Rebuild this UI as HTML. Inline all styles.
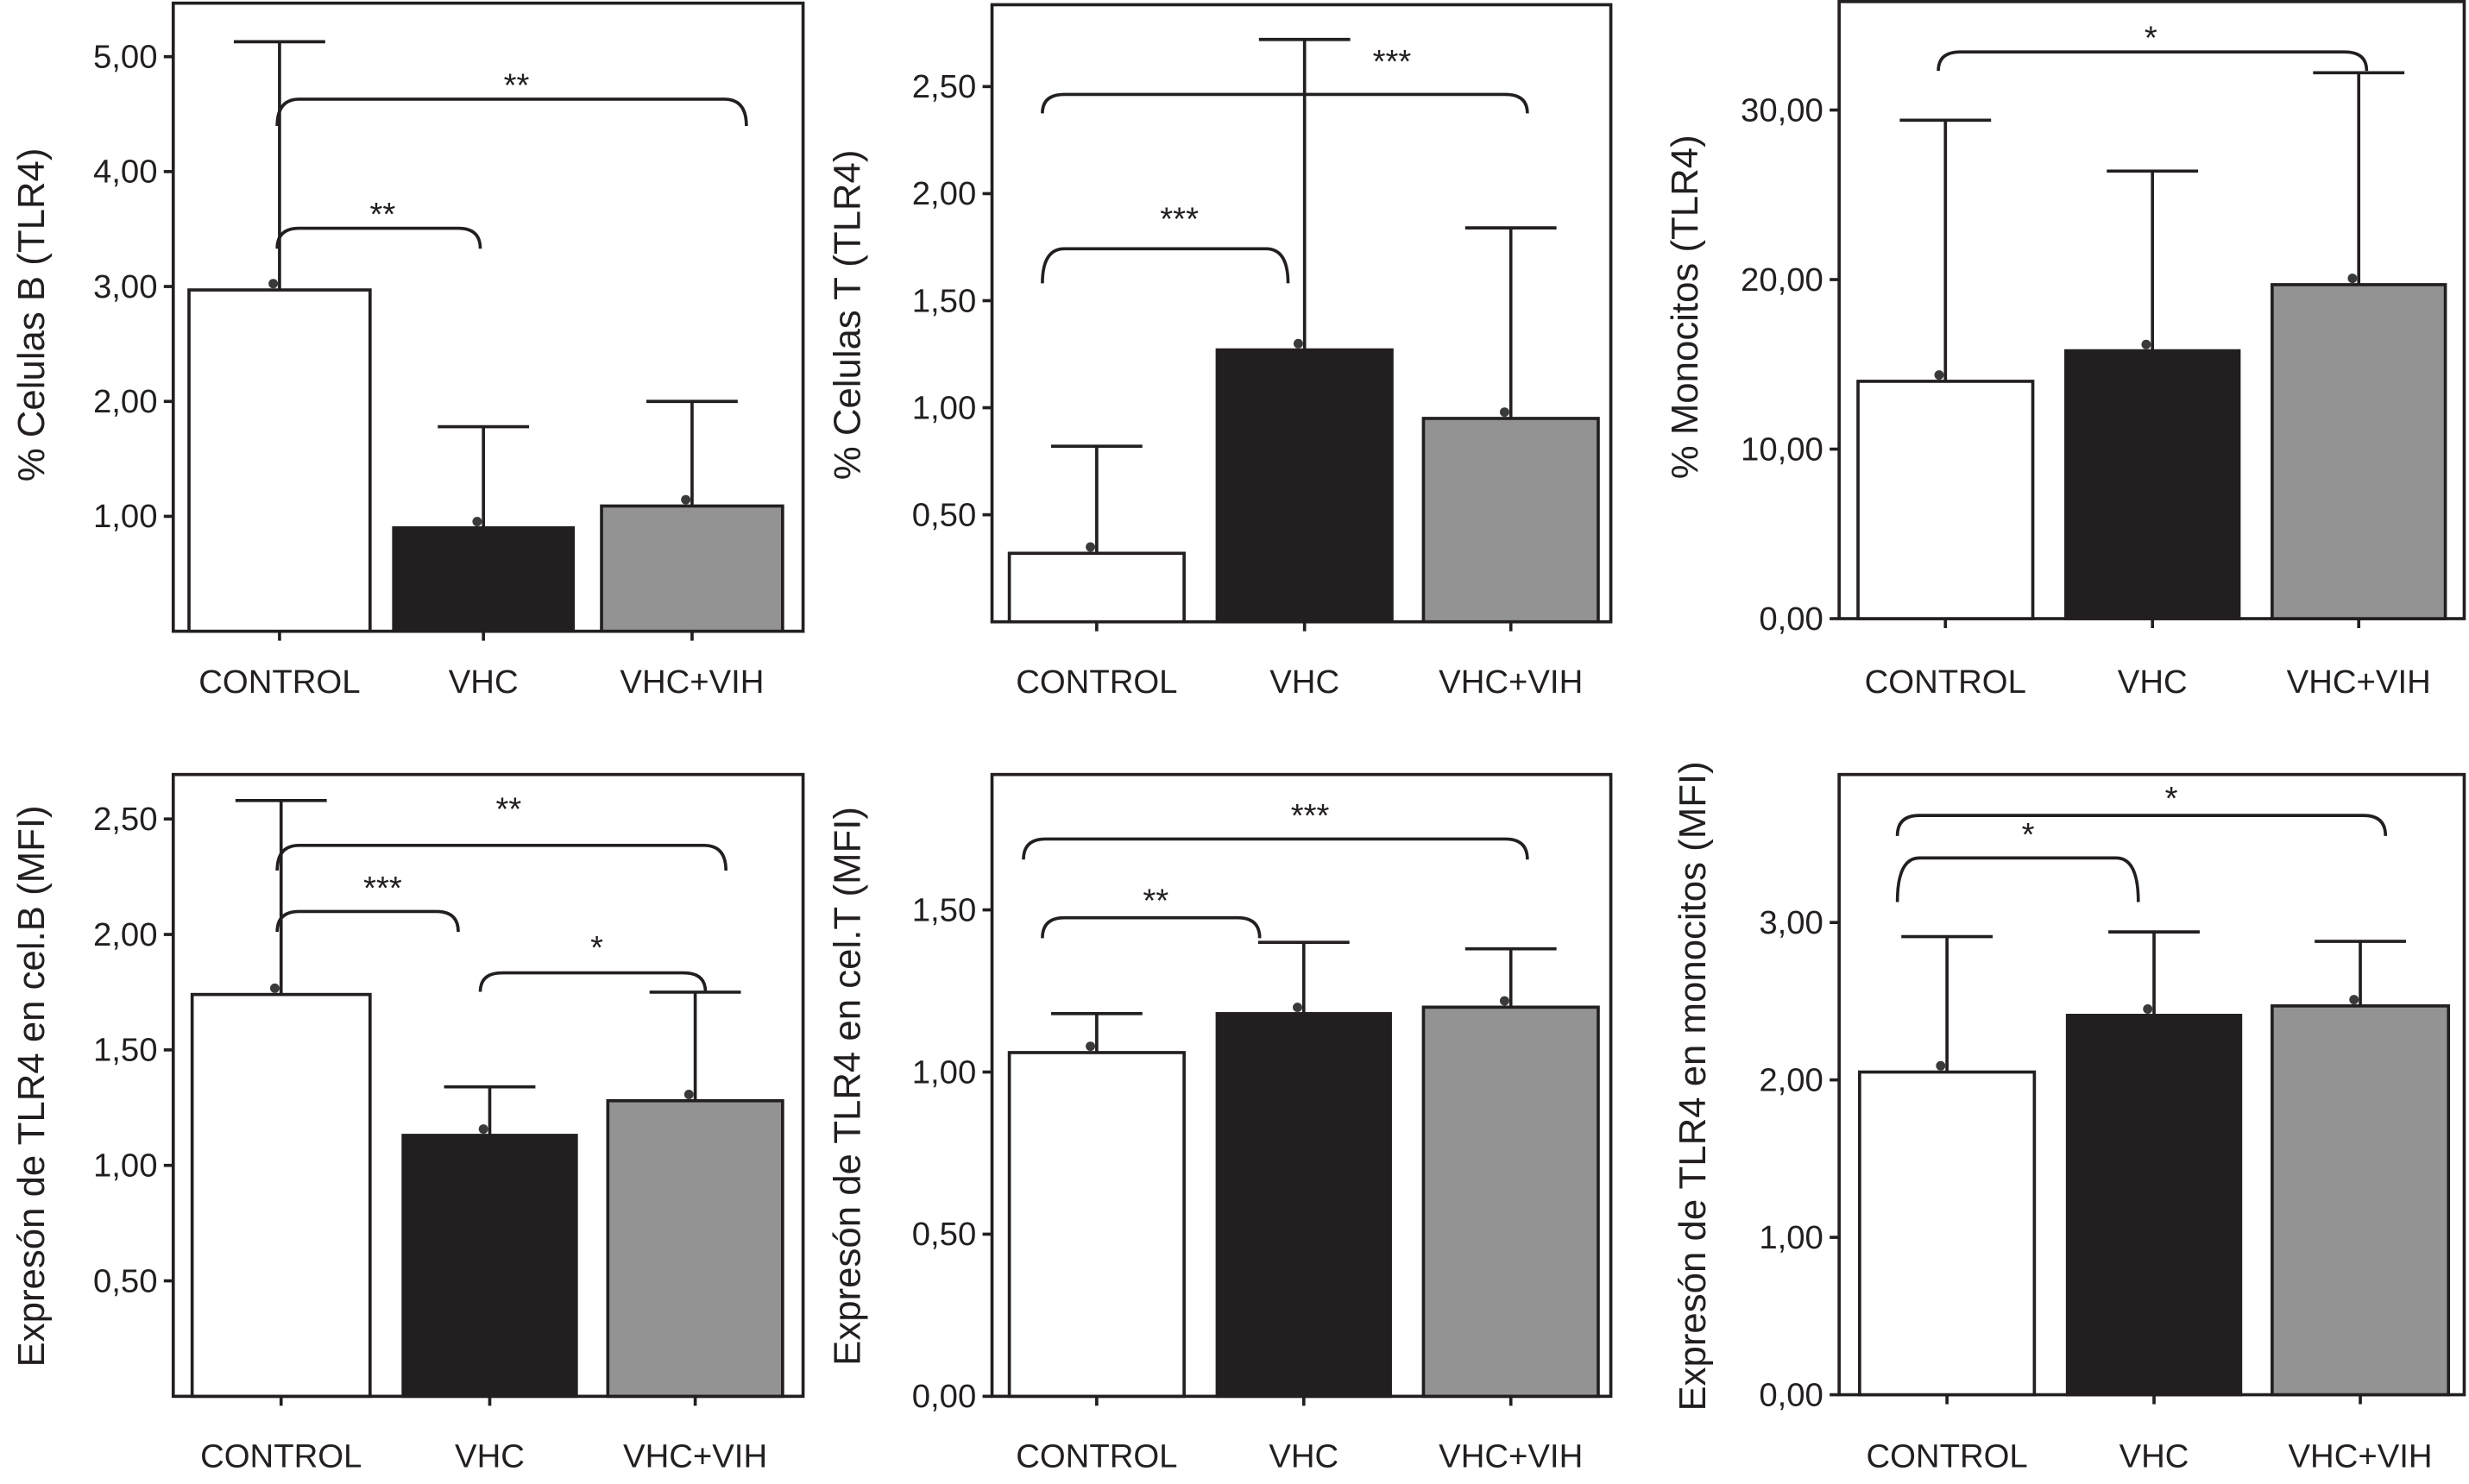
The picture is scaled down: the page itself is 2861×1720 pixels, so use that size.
<!DOCTYPE html>
<html><head><meta charset="utf-8"><style>
html,body{margin:0;padding:0;background:#fff;}
svg{display:block;font-family:"Liberation Sans",Arial,sans-serif;}
</style></head><body>
<svg id="fig" width="2861" height="1720" viewBox="0 0 1568 942.7" xmlns="http://www.w3.org/2000/svg"></svg>
<script>
const categories = ["CONTROL","VHC","VHC+VIH"];
const barFills = ["#ffffff","#231f20","#939393"];
// Panel A: % Celulas B
const valuesA = [2.97, 0.90, 1.09];
const errTopA = [5.13, 1.78, 2.00];
const ticksA = [1,2,3,4,5];
const tickLabelsA = ["1,00","2,00","3,00","4,00","5,00"];
const sigA = [[0,1,"**"],[0,2,"**"]];
// Panel B: % Celulas T
const valuesB = [0.32, 1.27, 0.95];
const errTopB = [0.82, 2.72, 1.84];
const ticksB = [0.5,1,1.5,2,2.5];
const tickLabelsB = ["0,50","1,00","1,50","2,00","2,50"];
const sigB = [[0,1,"***"],[0,2,"***"]];
// Panel C: % Monocitos
const valuesC = [14.0, 15.8, 19.7];
const errTopC = [29.4, 26.4, 32.2];
const ticksC = [0,10,20,30];
const tickLabelsC = ["0,00","10,00","20,00","30,00"];
const sigC = [[0,2,"*"]];
// Panel D: MFI cel.B
const valuesD = [1.74, 1.13, 1.28];
const errTopD = [2.58, 1.34, 1.75];
const ticksD = [0.5,1,1.5,2,2.5];
const tickLabelsD = ["0,50","1,00","1,50","2,00","2,50"];
const sigD = [[0,1,"***"],[0,2,"**"],[1,2,"*"]];
// Panel E: MFI cel.T
const valuesE = [1.06, 1.18, 1.20];
const errTopE = [1.18, 1.40, 1.38];
const ticksE = [0,0.5,1,1.5];
const tickLabelsE = ["0,00","0,50","1,00","1,50"];
const sigE = [[0,1,"**"],[0,2,"***"]];
// Panel F: MFI monocitos
const valuesF = [2.05, 2.41, 2.47];
const errTopF = [2.91, 2.94, 2.88];
const ticksF = [0,1,2,3];
const tickLabelsF = ["0,00","1,00","2,00","3,00"];
const sigF = [[0,1,"*"],[0,2,"*"]];

const NS="http://www.w3.org/2000/svg";
const svg=document.getElementById('fig');
function mk(tag,attrs,parent){const e=document.createElementNS(NS,tag);for(const k in attrs)e.setAttribute(k,attrs[k]);(parent||svg).appendChild(e);return e;}

const layouts=[
 {id:"b-cells-pct",vals:valuesA,errs:errTopA,ticks:ticksA,tl:tickLabelsA,sig:sigA,title:"% Celulas B (TLR4)",L:110,R:510,T:2,B:401,y0:401,ppu:73,bars:[[120,235],[250,364],[382,497]],br:[[145,158],[63,80]],lx:[243,328],tx:22,ty:200,xl:432,bx:[[176,305],[176,474]]},
 {id:"t-cells-pct",vals:valuesB,errs:errTopB,ticks:ticksB,tl:tickLabelsB,sig:sigB,title:"% Celulas T (TLR4)",L:630,R:1023,T:3,B:395,y0:395,ppu:136,bars:[[641,752],[773,884],[904,1015]],br:[[158,180],[60,72]],lx:[749,884],ly:[146,46],tx:540,ty:200,xl:432,bx:[[662,818],[662,970]]},
 {id:"monocytes-pct",vals:valuesC,errs:errTopC,ticks:ticksC,tl:tickLabelsC,sig:sigC,title:"% Monocitos (TLR4)",L:1168,R:1565,T:1,B:393,y0:393,ppu:10.77,bars:[[1180,1291],[1312,1422],[1443,1553]],br:[[33,45]],lx:[1366],tx:1072,ty:195,xl:432,bx:[[1231,1503]]},
 {id:"b-cells-mfi",vals:valuesD,errs:errTopD,ticks:ticksD,tl:tickLabelsD,sig:sigD,title:"Expresón de TLR4 en cel.B (MFI)",L:110,R:510,T:492,B:887,y0:887,ppu:146.7,bars:[[122,235],[256,366],[386,497]],br:[[579,592],[537,553],[618,630]],lx:[243,323,379],ly:[571,521,609],tx:22,ty:690,xl:924,bx:[[176,291],[176,461],[305,448]]},
 {id:"t-cells-mfi",vals:valuesE,errs:errTopE,ticks:ticksE,tl:tickLabelsE,sig:sigE,title:"Expresón de TLR4 en cel.T (MFI)",L:630,R:1023,T:492,B:887,y0:887,ppu:206,bars:[[641,752],[773,883],[904,1015]],br:[[583,596],[533,546]],lx:[734,832],ly:[579,525],tx:540,ty:690,xl:924,bx:[[662,800],[650,970]]},
 {id:"monocytes-mfi",vals:valuesF,errs:errTopF,ticks:ticksF,tl:tickLabelsF,sig:sigF,title:"Expresón de TLR4 en monocitos (MFI)",L:1168,R:1565,T:492,B:886,y0:886,ppu:100,bars:[[1181,1292],[1313,1423],[1443,1555]],br:[[545,573],[518,531]],lx:[1288,1379],ly:[537,514],tx:1077,ty:690,xl:924,bx:[[1205,1358],[1205,1515]]}
];

layouts.forEach(p=>{
 const g=mk('g',{});
 
 
 const y=v=>p.y0-v*p.ppu;
 const fr=mk('rect',{x:p.L,y:p.T,width:p.R-p.L,height:p.B-p.T,fill:'none',stroke:'#231f20','stroke-width':2},g);
 
 
 p.ticks.forEach((t,i)=>{
  mk('line',{x1:p.L-6,x2:p.L,y1:y(t),y2:y(t),stroke:'#231f20','stroke-width':2},g);
  const tx=mk('text',{x:p.L-10,y:y(t)+7,'text-anchor':'end','font-size':21,fill:'#231f20'},g);
  tx.textContent=p.tl[i];
  
  
 });
 categories.forEach((c,i)=>{
  const [x1,x2]=p.bars[i];const cx=(x1+x2)/2;
  const v=p.vals[i];const e=p.errs[i];
  mk('line',{x1:cx,x2:cx,y1:y(e),y2:y(v),stroke:'#231f20','stroke-width':2},g);
  mk('line',{x1:cx-29,x2:cx+29,y1:y(e),y2:y(e),stroke:'#231f20','stroke-width':2},g);
  const r=mk('rect',{x:x1,y:y(v),width:x2-x1,height:p.y0-y(v),fill:barFills[i],stroke:'#231f20','stroke-width':2},g);
  
  
  mk('circle',{cx:cx-4,cy:y(v)-4,r:3,fill:'#3a3a3a'},g);
  mk('line',{x1:cx,x2:cx,y1:p.B,y2:p.B+6,stroke:'#231f20','stroke-width':2},g);
  const lt=mk('text',{x:cx,y:p.xl+8,'text-anchor':'middle','font-size':21,fill:'#231f20'},g);
  lt.textContent=c;
  
  
 });
 p.sig.forEach((s,k)=>{
  const [a,b]=p.bx[k];const [yy,ye]=p.br[k];
  const pa=mk('path',{d:`M${a},${ye} Q${a},${yy} ${a+14},${yy} L${b-14},${yy} Q${b},${yy} ${b},${ye}`,fill:'none',stroke:'#231f20','stroke-width':2},g);
  
  
  const lx=p.lx?p.lx[k]:(a+b)/2;
  const ly=p.ly?p.ly[k]:yy-2;
  const st=mk('text',{x:lx,y:ly,'text-anchor':'middle','font-size':21,fill:'#231f20'},g);
  st.textContent=s[2];
  
  
 });
 const yt=mk('text',{x:0,y:0,'text-anchor':'middle','font-size':24,fill:'#231f20',transform:`translate(${p.tx+6},${p.ty}) rotate(-90)`},g);
 yt.textContent=p.title;
 
 
});
</script>
</body></html>
